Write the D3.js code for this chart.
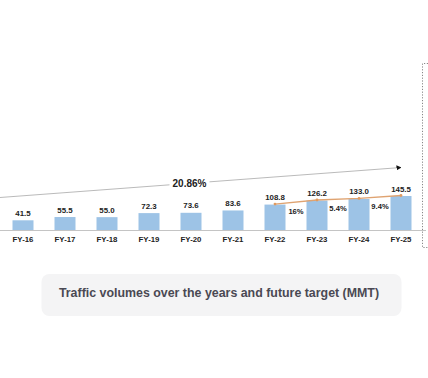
<!DOCTYPE html>
<html>
<head>
<meta charset="utf-8">
<script src="https://cdn.jsdelivr.net/npm/d3@7"></script>
<style>
  html, body { margin: 0; padding: 0; background: #fff; }
  svg { display: block; font-family: "Liberation Sans", Arial, sans-serif; }
</style>
</head>
<body>
<svg id="chart" width="428" height="378"></svg>
<script>
const years = ["FY-16","FY-17","FY-18","FY-19","FY-20","FY-21","FY-22","FY-23","FY-24","FY-25"];
const volumes = [41.5, 55.5, 55.0, 72.3, 73.6, 83.6, 108.8, 126.2, 133.0, 145.5];
const growthYears = ["FY-22","FY-23","FY-24","FY-25"];
const growthLabels = ["16%", "5.4%", "9.4%"];
const cagrLabel = "20.86%";
const titleText = "Traffic volumes over the years and future target (MMT)";

const svg = d3.select("#chart");
const baseY = 230;

const x = d3.scaleBand().domain(years).range([2, 422]).paddingInner(0.5).paddingOuter(0.25);
const y = d3.scaleLinear().domain([0, 145.5]).range([baseY, 196]);

const data = years.map((yr, i) => ({ yr, v: volumes[i] }));
const cx = d => x(d) + x.bandwidth() / 2;

// baseline
svg.append("line")
  .attr("x1", 0).attr("x2", 426)
  .attr("y1", baseY + 0.5).attr("y2", baseY + 0.5)
  .attr("stroke", "#c4c4c4").attr("stroke-width", 1);

// dotted bracket at right
svg.append("path")
  .attr("d", "M428,63.5 H422.5 V247.5 H428")
  .attr("fill", "none")
  .attr("stroke", "#888")
  .attr("stroke-width", 1)
  .attr("stroke-dasharray", "1.2,1.6");

// bars
svg.append("g").selectAll("rect").data(data).join("rect")
  .attr("x", d => x(d.yr))
  .attr("width", x.bandwidth())
  .attr("y", d => y(d.v))
  .attr("height", d => baseY - y(d.v))
  .attr("fill", "#9dc3e6");

// value labels
svg.append("g").selectAll("text").data(data).join("text")
  .attr("x", d => cx(d.yr))
  .attr("y", d => y(d.v) - 4.5)
  .attr("text-anchor", "middle")
  .attr("font-size", 7.9)
  .attr("font-weight", "bold")
  .attr("fill", "#222")
  .text(d => d.v.toFixed(1));

// x axis
const axis = svg.append("g")
  .attr("transform", `translate(0,${baseY})`)
  .call(d3.axisBottom(x).tickSize(0).tickPadding(6.5));
axis.select(".domain").remove();
axis.selectAll("text")
  .attr("font-size", 7.8)
  .attr("font-weight", "bold")
  .attr("font-family", "Liberation Sans, Arial, sans-serif")
  .attr("fill", "#222");

// growth line
const gData = growthYears.map(yr => data.find(d => d.yr === yr));
svg.append("path")
  .datum(gData)
  .attr("d", d3.line().x(d => cx(d.yr)).y(d => y(d.v) - 0.5))
  .attr("fill", "none")
  .attr("stroke", "#dfa371")
  .attr("stroke-width", 1.4);
svg.append("g").selectAll("circle").data(gData).join("circle")
  .attr("cx", d => cx(d.yr)).attr("cy", d => y(d.v) - 0.5)
  .attr("r", 1.4).attr("fill", "#e09a60");

// growth labels
svg.append("g").selectAll("text").data(growthLabels).join("text")
  .attr("x", (t, i) => (cx(gData[i].yr) + cx(gData[i + 1].yr)) / 2)
  .attr("y", (t, i) => (y(gData[i].v) + y(gData[i + 1].v)) / 2 + 8.5)
  .attr("dy", "0.35em")
  .attr("text-anchor", "middle")
  .attr("font-size", 7.6)
  .attr("font-weight", "bold")
  .attr("fill", "#222")
  .text(t => t);

// CAGR arrow
const defs = svg.append("defs");
defs.append("marker")
  .attr("id", "arr").attr("viewBox", "0 0 10 10")
  .attr("refX", 9).attr("refY", 5)
  .attr("markerWidth", 5).attr("markerHeight", 5)
  .attr("markerUnits", "userSpaceOnUse")
  .attr("orient", "auto")
  .append("path").attr("d", "M0,0 L10,5 L0,10 z").attr("fill", "#111");

const ax1 = 0, ay1 = 197.5;
const ax2 = cx(years[years.length - 1]), ay2 = 167.5;
svg.append("line")
  .attr("x1", ax1).attr("y1", ay1).attr("x2", ax2).attr("y2", ay2)
  .attr("stroke", "#a8a8a8").attr("stroke-width", 0.8)
  .attr("marker-end", "url(#arr)");

const lx = 189.5, ly = ay1 + (ay2 - ay1) * (lx - ax1) / (ax2 - ax1);
svg.append("rect")
  .attr("x", lx - 20).attr("y", ly - 6).attr("width", 40).attr("height", 12)
  .attr("fill", "#fff");
svg.append("text")
  .attr("x", lx).attr("y", ly + 0.5)
  .attr("dy", "0.35em")
  .attr("text-anchor", "middle")
  .attr("font-size", 10)
  .attr("font-weight", "bold")
  .attr("fill", "#222")
  .text(cagrLabel);

// title box
svg.append("rect")
  .attr("x", 41.5).attr("y", 274).attr("width", 360).attr("height", 42)
  .attr("rx", 8).attr("ry", 8)
  .attr("fill", "#f4f4f5");
svg.append("text")
  .attr("x", 219).attr("y", 293)
  .attr("dy", "0.35em")
  .attr("text-anchor", "middle")
  .attr("font-size", 12.4)
  .attr("font-weight", "bold")
  .attr("fill", "#4a4953")
  .text(titleText);
</script>
</body>
</html>
